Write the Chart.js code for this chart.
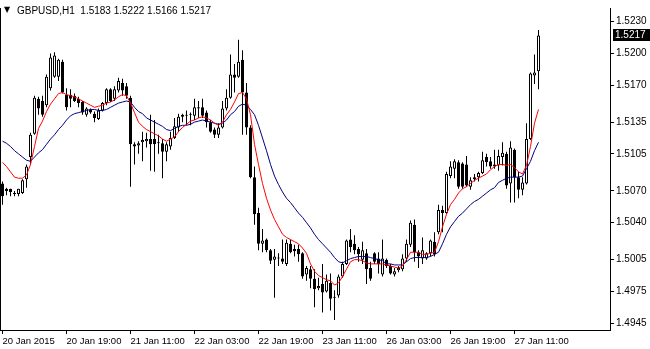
<!DOCTYPE html>
<html>
<head>
<meta charset="utf-8">
<script src="https://cdn.jsdelivr.net/npm/chart.js@4.4.0/dist/chart.umd.min.js"></script>
<style>
    html, body { margin: 0; padding: 0; background: #fff; }
    #chartWrap { width: 650px; height: 349px; }
</style>
</head>
<body>
<div id="chartWrap"><canvas id="chartGbpusd"></canvas></div>
<script>
const symbolTitle = 'GBPUSD,H1';

// hourly bars, oldest first
const opens = [1.5077, 1.5072, 1.5072, 1.5068, 1.5067, 1.5068, 1.5081, 1.5102, 1.5124, 1.5157,
    1.5155, 1.5151, 1.5167, 1.5178, 1.5178, 1.5192, 1.5161, 1.5161, 1.5160, 1.5157,
    1.5154, 1.5142, 1.5147, 1.5143, 1.5138, 1.5146, 1.5153, 1.5166, 1.5157, 1.5165,
    1.5172, 1.5169, 1.5158, 1.5114, 1.5113, 1.5116, 1.5117, 1.5119, 1.5119, 1.5116,
    1.5115, 1.5107, 1.5112, 1.5120, 1.5130, 1.5142, 1.5142, 1.5143, 1.5141, 1.5149,
    1.5149, 1.5144, 1.5135, 1.5128, 1.5123, 1.5130, 1.5148, 1.5158, 1.5180, 1.5178,
    1.5194, 1.5163, 1.5130, 1.5083, 1.5049, 1.5020, 1.5024, 1.5014, 1.5005, 1.5006,
    1.5006, 1.5001, 1.5020, 1.5015, 1.5015, 1.5011, 1.4991, 1.4996, 1.4987, 1.4978,
    1.4982, 1.4975, 1.4983, 1.4970, 1.4971, 1.4989, 1.5001, 1.5024, 1.5020, 1.5015,
    1.5005, 1.5011, 1.4997, 1.5011, 1.5006, 1.4991, 1.5005, 1.4999, 1.4991, 1.4995,
    1.4996, 1.5006, 1.5019, 1.5038, 1.5012, 1.5006, 1.5006, 1.5011, 1.5022, 1.5031,
    1.5052, 1.5049, 1.5084, 1.5091, 1.5097, 1.5096, 1.5095, 1.5074, 1.5081, 1.5083,
    1.5087, 1.5102, 1.5098, 1.5095, 1.5094, 1.5102, 1.5105, 1.5077, 1.5109, 1.5083,
    1.5071, 1.5077, 1.5119, 1.5179, 1.5183];
const highs = [1.5079, 1.5073, 1.5072, 1.5070, 1.5072, 1.5081, 1.5095, 1.5125, 1.5160, 1.5159,
    1.5160, 1.5180, 1.5200, 1.5201, 1.5195, 1.5194, 1.5167, 1.5166, 1.5162, 1.5159,
    1.5155, 1.5149, 1.5148, 1.5145, 1.5148, 1.5154, 1.5167, 1.5167, 1.5169, 1.5177,
    1.5176, 1.5172, 1.5160, 1.5116, 1.5117, 1.5126, 1.5125, 1.5142, 1.5137, 1.5123,
    1.5119, 1.5116, 1.5126, 1.5139, 1.5143, 1.5143, 1.5146, 1.5144, 1.5157, 1.5155,
    1.5157, 1.5146, 1.5137, 1.5130, 1.5134, 1.5155, 1.5166, 1.5199, 1.5190, 1.5213,
    1.5203, 1.5172, 1.5132, 1.5093, 1.5054, 1.5034, 1.5025, 1.5015, 1.5015, 1.5011,
    1.5024, 1.5024, 1.5024, 1.5019, 1.5019, 1.5012, 1.4999, 1.4999, 1.4996, 1.4988,
    1.5001, 1.4991, 1.4992, 1.4976, 1.4991, 1.5003, 1.5024, 1.5034, 1.5028, 1.5017,
    1.5022, 1.5015, 1.5003, 1.5012, 1.5012, 1.5024, 1.5006, 1.5001, 1.4997, 1.4999,
    1.5010, 1.5024, 1.5042, 1.5043, 1.5014, 1.5026, 1.5012, 1.5024, 1.5031, 1.5057,
    1.5056, 1.5088, 1.5098, 1.5100, 1.5099, 1.5097, 1.5103, 1.5083, 1.5086, 1.5088,
    1.5107, 1.5105, 1.5102, 1.5109, 1.5109, 1.5116, 1.5107, 1.5117, 1.5110, 1.5088,
    1.5083, 1.5134, 1.5182, 1.5199, 1.5222];
const lows = [1.5057, 1.5066, 1.5065, 1.5065, 1.5065, 1.5067, 1.5073, 1.5095, 1.5123, 1.5142,
    1.5140, 1.5149, 1.5165, 1.5177, 1.5174, 1.5162, 1.5146, 1.5149, 1.5154, 1.5149,
    1.5142, 1.5140, 1.5143, 1.5135, 1.5137, 1.5145, 1.5151, 1.5154, 1.5155, 1.5163,
    1.5160, 1.5157, 1.5074, 1.5095, 1.5105, 1.5098, 1.5111, 1.5089, 1.5088, 1.5105,
    1.5082, 1.5098, 1.5109, 1.5119, 1.5126, 1.5135, 1.5132, 1.5132, 1.5137, 1.5139,
    1.5139, 1.5130, 1.5125, 1.5120, 1.5120, 1.5129, 1.5146, 1.5157, 1.5163, 1.5177,
    1.5123, 1.5123, 1.5082, 1.5038, 1.5014, 1.5012, 1.5012, 1.5001, 1.4969, 1.4999,
    1.5001, 1.4999, 1.5011, 1.5008, 1.5003, 1.4987, 1.4985, 1.4978, 1.4960, 1.4976,
    1.4955, 1.4974, 1.4957, 1.4948, 1.4969, 1.4988, 1.5000, 1.5012, 1.5010, 1.5003,
    1.5001, 1.4982, 1.4985, 1.5001, 1.4992, 1.4989, 1.4997, 1.4991, 1.4989, 1.4993,
    1.4994, 1.5003, 1.5017, 1.5003, 1.4997, 1.5001, 1.5005, 1.5008, 1.5008, 1.5029,
    1.5031, 1.5048, 1.5082, 1.5082, 1.5072, 1.5072, 1.5074, 1.5071, 1.5079, 1.5079,
    1.5086, 1.5093, 1.5091, 1.5091, 1.5089, 1.5094, 1.5072, 1.5059, 1.5059, 1.5063,
    1.5066, 1.5076, 1.5118, 1.5171, 1.5166];
const closes = [1.5065, 1.5070, 1.5069, 1.5067, 1.5072, 1.5080, 1.5093, 1.5123, 1.5158, 1.5148,
    1.5142, 1.5178, 1.5196, 1.5198, 1.5194, 1.5163, 1.5149, 1.5157, 1.5155, 1.5153,
    1.5144, 1.5148, 1.5144, 1.5139, 1.5146, 1.5153, 1.5166, 1.5155, 1.5166, 1.5174,
    1.5165, 1.5160, 1.5114, 1.5112, 1.5115, 1.5118, 1.5119, 1.5114, 1.5114, 1.5115,
    1.5107, 1.5114, 1.5120, 1.5131, 1.5140, 1.5140, 1.5141, 1.5142, 1.5149, 1.5148,
    1.5141, 1.5135, 1.5126, 1.5123, 1.5130, 1.5148, 1.5158, 1.5180, 1.5177, 1.5192,
    1.5163, 1.5130, 1.5083, 1.5048, 1.5020, 1.5023, 1.5014, 1.5004, 1.5008, 1.5006,
    1.5003, 1.5021, 1.5012, 1.5013, 1.5010, 1.4989, 1.4997, 1.4987, 1.4977, 1.4980,
    1.4974, 1.4985, 1.4968, 1.4969, 1.4989, 1.5001, 1.5023, 1.5017, 1.5014, 1.5010,
    1.5014, 1.4996, 1.4987, 1.5003, 1.5001, 1.5006, 1.4999, 1.4992, 1.4994, 1.4997,
    1.5006, 1.5020, 1.5040, 1.5012, 1.5008, 1.5014, 1.5011, 1.5023, 1.5010, 1.5052,
    1.5049, 1.5086, 1.5093, 1.5098, 1.5074, 1.5074, 1.5075, 1.5080, 1.5083, 1.5087,
    1.5099, 1.5097, 1.5093, 1.5093, 1.5103, 1.5106, 1.5075, 1.5111, 1.5083, 1.5071,
    1.5078, 1.5119, 1.5181, 1.5182, 1.5217];

// the two moving averages
const maFast = [1.5097, 1.5093, 1.5088, 1.5083, 1.5082, 1.5082, 1.5085, 1.5095, 1.5112, 1.5129,
    1.5136, 1.5145, 1.5152, 1.5157, 1.5162, 1.5163, 1.5161, 1.5160, 1.5159, 1.5157,
    1.5155, 1.5153, 1.5151, 1.5149, 1.5150, 1.5151, 1.5153, 1.5154, 1.5156, 1.5159,
    1.5161, 1.5160, 1.5153, 1.5144, 1.5135, 1.5131, 1.5128, 1.5126, 1.5124, 1.5122,
    1.5119, 1.5117, 1.5119, 1.5121, 1.5126, 1.5130, 1.5133, 1.5136, 1.5137, 1.5139,
    1.5140, 1.5139, 1.5137, 1.5134, 1.5132, 1.5135, 1.5142, 1.5147, 1.5154, 1.5162,
    1.5163, 1.5157, 1.5142, 1.5114, 1.5095, 1.5077, 1.5063, 1.5052, 1.5043, 1.5036,
    1.5029, 1.5026, 1.5024, 1.5022, 1.5020, 1.5016, 1.5011, 1.5001, 1.4994, 1.4990,
    1.4988, 1.4986, 1.4985, 1.4981, 1.4983, 1.4989, 1.4996, 1.5003, 1.5005, 1.5005,
    1.5004, 1.5002, 1.5001, 1.5001, 1.5001, 1.5001, 1.5000, 1.4999, 1.4998, 1.4997,
    1.4999, 1.5005, 1.5012, 1.5012, 1.5012, 1.5010, 1.5010, 1.5011, 1.5012, 1.5022,
    1.5036, 1.5048, 1.5057, 1.5062, 1.5068, 1.5072, 1.5074, 1.5077, 1.5080, 1.5082,
    1.5084, 1.5086, 1.5090, 1.5093, 1.5095, 1.5095, 1.5094, 1.5095, 1.5092, 1.5088,
    1.5086, 1.5094, 1.5112, 1.5134, 1.5147];
const maSlow = [1.5117, 1.5115, 1.5112, 1.5108, 1.5105, 1.5102, 1.5099, 1.5098, 1.5102, 1.5106,
    1.5109, 1.5114, 1.5119, 1.5123, 1.5128, 1.5132, 1.5137, 1.5141, 1.5143, 1.5144,
    1.5145, 1.5146, 1.5147, 1.5147, 1.5146, 1.5146, 1.5147, 1.5149, 1.5151, 1.5153,
    1.5154, 1.5155, 1.5154, 1.5149, 1.5145, 1.5143, 1.5139, 1.5137, 1.5135, 1.5133,
    1.5131, 1.5128, 1.5127, 1.5129, 1.5131, 1.5132, 1.5132, 1.5133, 1.5135, 1.5136,
    1.5137, 1.5136, 1.5135, 1.5134, 1.5133, 1.5134, 1.5137, 1.5142, 1.5145, 1.5150,
    1.5152, 1.5151, 1.5147, 1.5142, 1.5132, 1.5120, 1.5108, 1.5095, 1.5084, 1.5076,
    1.5069, 1.5063, 1.5059, 1.5054, 1.5049, 1.5045, 1.5040, 1.5035, 1.5029, 1.5024,
    1.5020, 1.5016, 1.5012, 1.5007, 1.5003, 1.5002, 1.5004, 1.5006, 1.5007, 1.5008,
    1.5008, 1.5008, 1.5007, 1.5006, 1.5005, 1.5004, 1.5001, 1.5001, 1.5000, 1.5000,
    1.5000, 1.5003, 1.5006, 1.5007, 1.5007, 1.5007, 1.5007, 1.5008, 1.5010, 1.5012,
    1.5020, 1.5029, 1.5036, 1.5041, 1.5046, 1.5049, 1.5053, 1.5057, 1.5060, 1.5062,
    1.5065, 1.5068, 1.5071, 1.5073, 1.5078, 1.5080, 1.5082, 1.5083, 1.5083, 1.5083,
    1.5084, 1.5091, 1.5098, 1.5108, 1.5116];

const xTickIndex = [0, 16, 32, 48, 64, 80, 96, 112, 128];
const xTickLabels = ['20 Jan 2015', '20 Jan 19:00', '21 Jan 11:00', '22 Jan 03:00', '22 Jan 19:00',
    '23 Jan 11:00', '26 Jan 03:00', '26 Jan 19:00', '27 Jan 11:00'];
const yTicks = [1.5230, 1.5200, 1.5170, 1.5135, 1.5105, 1.5070, 1.5040, 1.5005, 1.4975, 1.4945];

const fontName = '"Liberation Sans", Arial, sans-serif';

// left frame line, title and the last price box
const terminalDecor = {
    id: 'terminalDecor',
    afterDraw(chart) {
        const ctx = chart.ctx;
        const area = chart.chartArea;
        const yScale = chart.scales.y;
        ctx.save();
        ctx.strokeStyle = '#000';
        ctx.lineWidth = 1;
        ctx.beginPath();
        ctx.moveTo(area.left + 0.5, area.top);
        ctx.lineTo(area.left + 0.5, area.bottom);
        ctx.stroke();

        ctx.fillStyle = '#000';
        ctx.textBaseline = 'middle';
        ctx.font = '8px "DejaVu Sans"';
        ctx.fillText('\u25BC', 4, 10);
        ctx.font = '10px ' + fontName;
        let last = closes.length - 1;
        let title = symbolTitle + '  ' + opens[last].toFixed(4) + ' ' + highs[last].toFixed(4) + ' ' +
            lows[last].toFixed(4) + ' ' + closes[last].toFixed(4);
        ctx.fillText(title, 17, 11);

        let py = Math.round(yScale.getPixelForValue(closes[last]));
        ctx.fillRect(area.right + 3, py - 6, 650 - area.right - 3, 12);
        ctx.fillStyle = '#fff';
        ctx.fillText(closes[last].toFixed(4), area.right + 5, py);
        ctx.restore();
    }
};

function initChart() {
    let wickData = [];
    let bodyData = [];
    let bodyColors = [];
    let fastData = [];
    let slowData = [];

    for (let i = 0; i < opens.length; i++) {
        wickData.push({ x: i, y: [lows[i], highs[i]] });
        bodyData.push({ x: i, y: [opens[i], closes[i]] });
        bodyColors.push(closes[i] < opens[i] ? '#000000' : '#ffffff');
        fastData.push({ x: i, y: maFast[i] });
        slowData.push({ x: i, y: maSlow[i] });
    }

    let canvas = document.getElementById('chartGbpusd');
    new Chart(canvas, {
        type: 'bar',
        data: {
            datasets: [
                {
                    type: 'line',
                    label: 'MA fast',
                    data: fastData,
                    borderColor: '#ff0000',
                    borderWidth: 1,
                    pointRadius: 0,
                    tension: 0,
                    order: 1
                },
                {
                    type: 'line',
                    label: 'MA slow',
                    data: slowData,
                    borderColor: '#000080',
                    borderWidth: 1,
                    pointRadius: 0,
                    tension: 0,
                    order: 2
                },
                {
                    label: 'body',
                    data: bodyData,
                    backgroundColor: bodyColors,
                    borderColor: '#000000',
                    borderWidth: 1,
                    borderSkipped: false,
                    barThickness: 3,
                    minBarLength: 1,
                    inflateAmount: 0,
                    grouped: false,
                    order: 3
                },
                {
                    label: 'wick',
                    data: wickData,
                    backgroundColor: '#000000',
                    borderWidth: 0,
                    barThickness: 1,
                    inflateAmount: 0,
                    grouped: false,
                    order: 4
                }
            ]
        },
        options: {
            responsive: true,
            maintainAspectRatio: false,
            animation: false,
            layout: { padding: 0 },
            plugins: {
                legend: { display: false },
                tooltip: { enabled: false }
            },
            scales: {
                x: {
                    type: 'linear',
                    min: -0.625,
                    max: 151.875,
                    offset: false,
                    grid: { drawOnChartArea: false, tickLength: 4, color: '#000', offset: false },
                    border: { display: true, color: '#000' },
                    ticks: {
                        autoSkip: false,
                        maxRotation: 0,
                        align: 'start',
                        padding: 2,
                        color: '#000',
                        font: { family: fontName, size: 9.5 },
                        callback: function (value) {
                            return xTickLabels[xTickIndex.indexOf(value)];
                        }
                    },
                    afterBuildTicks: function (scale) {
                        scale.ticks = xTickIndex.map(v => ({ value: v }));
                    },
                    afterFit: function (scale) {
                        scale.height = 19;
                    }
                },
                y: {
                    type: 'linear',
                    position: 'right',
                    min: 1.49385,
                    max: 1.52429,
                    grid: { drawOnChartArea: false, tickLength: 4, color: '#000' },
                    border: { display: true, color: '#000' },
                    ticks: {
                        padding: 2,
                        color: '#000',
                        font: { family: fontName, size: 10 },
                        callback: function (value) {
                            return value.toFixed(4);
                        }
                    },
                    afterBuildTicks: function (scale) {
                        scale.ticks = yTicks.map(v => ({ value: v }));
                    },
                    afterFit: function (scale) {
                        scale.width = 40;
                    }
                }
            }
        },
        plugins: [terminalDecor]
    });
}

window.addEventListener('load', initChart);
</script>
</body>
</html>
